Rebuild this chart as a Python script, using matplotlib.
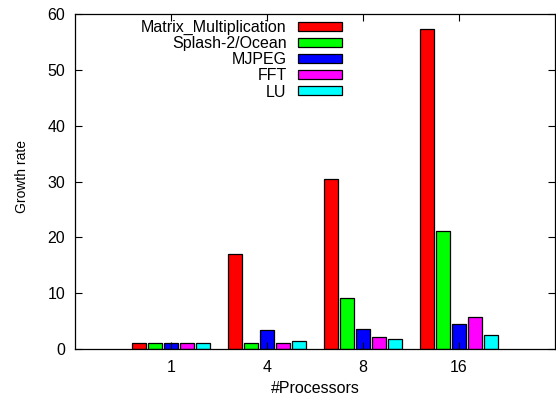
import numpy as np
import matplotlib
matplotlib.use('Agg')
import matplotlib.pyplot as plt

plt.rcParams['font.family'] = ['Liberation Sans', 'DejaVu Sans']

# growth rate per benchmark, one value per processor count
processors = ['1', '4', '8', '16']
series_names = ['Matrix_Multiplication', 'Splash-2/Ocean', 'MJPEG', 'FFT', 'LU']
matrix_mult = [1.0, 17.0, 30.4, 57.4]
ocean = [1.0, 1.0, 9.1, 21.1]
mjpeg = [1.0, 3.4, 3.5, 4.5]
fft = [1.0, 1.1, 2.1, 5.7]
lu = [1.0, 1.4, 1.8, 2.5]

colors = ['#ff0000', '#00ff00', '#0000ff', '#ff00ff', '#00ffff']

fig = plt.figure(figsize=(5.56, 3.97), dpi=100)
ax = fig.add_axes([75 / 556, 48 / 397, 480 / 556, 335 / 397])

x = np.arange(len(processors))
w = 1.0 / 6
all_series = [matrix_mult, ocean, mjpeg, fft, lu]
for i, (name, vals) in enumerate(zip(series_names, all_series)):
    ax.bar(x + (i - 2) * w, vals, width=w * 0.9, color=colors[i],
           edgecolor='black', linewidth=0.9, label=name)

ax.set_xlim(-1, 4)
ax.set_ylim(0, 60)
ax.set_xticks(x)
ax.set_xticklabels(processors)
ax.set_yticks(range(0, 61, 10))
ax.tick_params(direction='in', top=True, right=True, length=5,
               labelsize=11.5, width=0.8)
ax.tick_params(axis='x', pad=8)
ax.tick_params(axis='y', pad=7)
for s in ax.spines.values():
    s.set_linewidth(0.9)

ax.set_xlabel('#Processors', fontsize=11.5, labelpad=4)
ax.set_ylabel('Growth rate', fontsize=10)
ax.yaxis.set_label_coords(-0.096, 0.516)

ax.legend(loc='upper left', bbox_to_anchor=(0.121, 1.006), frameon=False,
          markerfirst=False, fontsize=11.5, handlelength=2.75, handleheight=0.5,
          labelspacing=0.07, handletextpad=0.7, borderaxespad=0.1)

fig.savefig('out.png', dpi=100)
